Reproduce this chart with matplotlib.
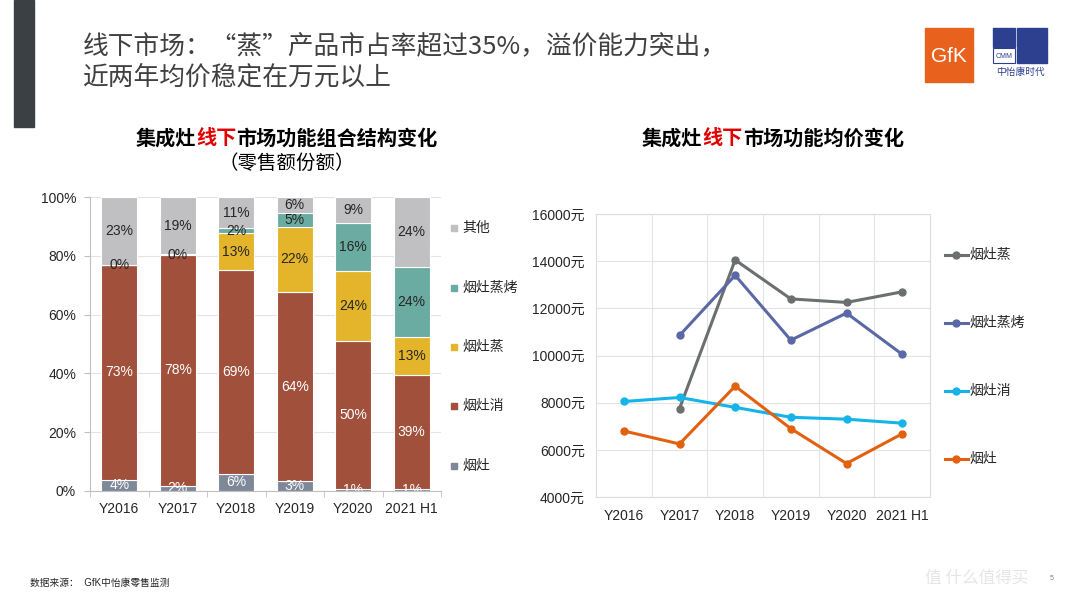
import matplotlib.pyplot as plt
import numpy as np
from matplotlib.patches import Rectangle
from matplotlib.lines import Line2D

plt.rcParams['font.family'] = ['Liberation Sans', 'Noto Sans CJK SC', 'DejaVu Sans']

years = ['Y2016', 'Y2017', 'Y2018', 'Y2019', 'Y2020', '2021 H1']

# 零售额份额 (%)
share_yz = [3.9, 1.8, 5.8, 3.4, 0.8, 0.7]          # 烟灶
share_yzx = [72.9, 78.4, 69.3, 64.2, 50.2, 38.9]   # 烟灶消
share_yzz = [0.2, 0.4, 12.6, 22.3, 24.0, 12.9]     # 烟灶蒸
share_yzzk = [0, 0, 1.7, 4.6, 16.0, 23.8]          # 烟灶蒸烤
share_other = [23.0, 19.4, 10.6, 5.5, 9.0, 23.7]   # 其他

# 均价 (元)
price_yzz = [np.nan, 7750, 14050, 12400, 12250, 12700]
price_yzzk = [np.nan, 10850, 13400, 10650, 11800, 10050]
price_yzx = [8050, 8220, 7800, 7380, 7300, 7130]
price_yz = [6800, 6250, 8700, 6900, 5420, 6680]

W, H = 1080, 604
fig = plt.figure(figsize=(W / 100, H / 100), dpi=100)


def px_rect(x0, y0, x1, y1):
    return [x0 / W, 1 - y1 / H, (x1 - x0) / W, (y1 - y0) / H]


def fx(x):
    return x / W


def fy(y):
    return 1 - y / H


# header
fig.add_artist(Rectangle((fx(14), fy(127)), 20 / W, 127 / H, color='#3b4045'))
fig.text(fx(83), fy(47), '线下市场：“蒸”产品市占率超过35%，溢价能力突出，',
         fontsize=18.5, color='#404040', va='center', family=['Noto Sans CJK SC'])
fig.text(fx(83), fy(78), '近两年均价稳定在万元以上',
         fontsize=18.5, color='#404040', va='center', family=['Noto Sans CJK SC'])

# logos
fig.add_artist(Rectangle((fx(925), fy(82)), 48 / W, 54 / H, color='#e8621e'))
fig.text(fx(949), fy(57), 'GfK', color='white', fontsize=15, ha='center', va='center')
fig.add_artist(Rectangle((fx(993), fy(47)), 22 / W, 19 / H, color='#2d3f8f'))
fig.add_artist(Rectangle((fx(1017), fy(47)), 30 / W, 19 / H, color='#2d3f8f'))
fig.add_artist(Rectangle((fx(1017), fy(63)), 30 / W, 15 / H, color='#2d3f8f'))
fig.add_artist(Rectangle((fx(993), fy(63)), 22 / W, 15 / H, fill=False, ec='#2d3f8f', lw=0.8))
fig.text(fx(1004), fy(56), 'CMM', color='#2d3f8f', fontsize=5, ha='center', va='center')
fig.text(fx(1020), fy(72), '中怡康时代', color='#2d3f8f', fontsize=7, ha='center', va='center',
         family=['Noto Sans CJK SC'])


# subtitles
def title_parts(xc, y, parts, size=14.5):
    total = ''.join(p for p, c in parts)
    # CJK chars are square, so width ~ size in px
    char_w = size * 1.39
    x = xc - len(total) * char_w / 2
    for p, c in parts:
        fig.text(fx(x), fy(y), p, color=c, fontsize=size, fontweight='bold', va='center',
                 family=['Noto Sans CJK SC'])
        x += len(p) * char_w


title_parts(287, 138, [('集成灶', 'black'), ('线下', '#e00000'), ('市场功能组合结构变化', 'black')])
fig.text(fx(287), fy(163), '（零售额份额）', fontsize=14, ha='center', va='center',
         family=['Noto Sans CJK SC'])
title_parts(773, 138, [('集成灶', 'black'), ('线下', '#e00000'), ('市场功能均价变化', 'black')])

# ---- stacked bars ----
ax1 = fig.add_axes(px_rect(90, 197, 441, 491))
x = np.arange(len(years))
series = [
    ('烟灶', share_yz, '#7e8898', 'white'),
    ('烟灶消', share_yzx, '#a0503b', 'white'),
    ('烟灶蒸', share_yzz, '#e4b52a', '#262626'),
    ('烟灶蒸烤', share_yzzk, '#6aaca1', '#262626'),
    ('其他', share_other, '#c0c0c2', '#262626'),
]
bottom = np.zeros(len(years))
for name, vals, col, tcol in series:
    vals = np.array(vals, dtype=float)
    ax1.bar(x, vals, 0.62, bottom=bottom, color=col, edgecolor='white', linewidth=0.8, zorder=3)
    for i, v in enumerate(vals):
        if v > 0:
            ax1.text(x[i], bottom[i] + v / 2, '%.0f%%' % v, ha='center', va='center',
                     color=tcol, fontsize=10, zorder=4, clip_on=True)
    bottom += vals

ax1.set_xlim(-0.5, 5.5)
ax1.set_ylim(0, 100)
ax1.set_yticks(range(0, 101, 20))
ax1.set_yticklabels(['%d%%' % v for v in range(0, 101, 20)], fontsize=10, color='#262626')
ax1.set_xticks(x)
ax1.set_xticklabels(years, fontsize=10, color='#262626')
ax1.set_xticks(np.arange(-0.5, 6, 1), minor=True)
ax1.tick_params(axis='x', which='major', length=0, pad=8)
ax1.tick_params(axis='x', which='minor', length=4, color='#bfbfbf')
ax1.tick_params(axis='y', length=4, color='#bfbfbf', pad=6)
ax1.grid(axis='y', color='#e3e3e3', lw=0.8, zorder=0)
for s in ['top', 'right']:
    ax1.spines[s].set_visible(False)
for s in ['left', 'bottom']:
    ax1.spines[s].set_color('#bfbfbf')

leg1_y = [228, 288, 347, 406, 466]
for (name, vals, col, tcol), yy in zip(series[::-1], leg1_y):
    fig.add_artist(Rectangle((fx(451), fy(yy + 3)), 6 / W, 6 / H, color=col))
    fig.text(fx(462), fy(yy), name, fontsize=10, va='center', color='#262626')

# ---- line chart ----
ax2 = fig.add_axes(px_rect(596, 214, 930, 497))
lines = [
    ('烟灶蒸', price_yzz, '#6b6f70'),
    ('烟灶蒸烤', price_yzzk, '#5a68a6'),
    ('烟灶消', price_yzx, '#14b4e8'),
    ('烟灶', price_yz, '#e2610f'),
]
for name, vals, col in lines:
    ax2.plot(x, vals, color=col, lw=2.2, marker='o', ms=5, zorder=3)
ax2.set_xlim(-0.5, 5.5)
ax2.set_ylim(4000, 16000)
ax2.set_yticks(range(4000, 16001, 2000))
ax2.set_yticklabels(['%d元' % v for v in range(4000, 16001, 2000)], fontsize=10, color='#262626')
ax2.set_xticks(x)
ax2.set_xticklabels(years, fontsize=10, color='#262626')
ax2.set_xticks(np.arange(0.5, 5, 1), minor=True)
ax2.tick_params(which='both', length=0)
ax2.tick_params(axis='x', pad=9)
ax2.tick_params(axis='y', pad=8)
ax2.grid(axis='y', color='#e3e3e3', lw=0.8, zorder=0)
ax2.grid(axis='x', which='minor', color='#e3e3e3', lw=0.8, zorder=0)
for s in ax2.spines.values():
    s.set_color('#dcdcdc')

leg2_y = [255, 323, 391, 459]
for (name, vals, col), yy in zip(lines, leg2_y):
    fig.add_artist(Line2D([fx(945), fx(968)], [fy(yy), fy(yy)], color=col, lw=2.2))
    fig.add_artist(Line2D([fx(956)], [fy(yy)], color=col, marker='o', ms=5))
    fig.text(fx(969), fy(yy), name, fontsize=10, va='center', color='#262626')

# footer
fig.text(fx(30), fy(583), '数据来源：  GfK中怡康零售监测', fontsize=7, va='center', color='#262626')
fig.text(fx(925), fy(578), '值 什么值得买', fontsize=12, va='center', color='#e6e6e6',
         family=['Noto Sans CJK SC'])
fig.text(fx(1050), fy(578), '5', fontsize=5, va='center', color='#808080')

fig.savefig('out.png', dpi=100)
